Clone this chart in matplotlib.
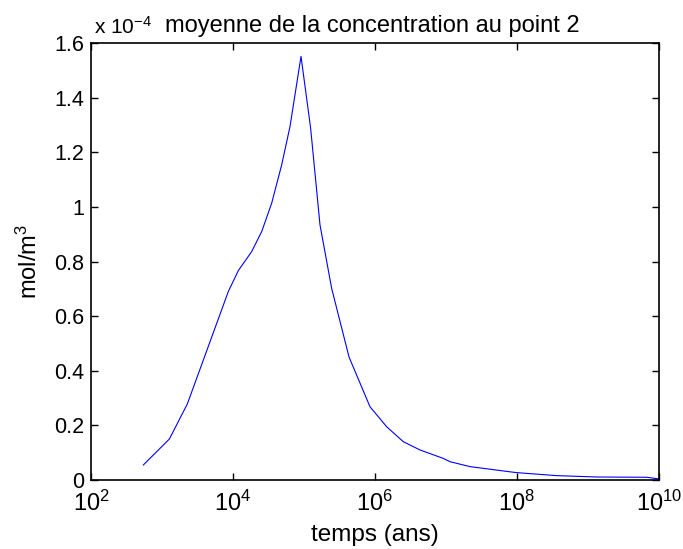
import math
import matplotlib
matplotlib.use("Agg")
import matplotlib.pyplot as plt
from matplotlib.ticker import FixedLocator, FuncFormatter, NullLocator

# ── Data ──────────────────────────────────────────────────────────────────────
temps = [5.46e2, 1.27e3, 2.27e3, 8.59e3, 1.19e4, 1.83e4, 2.54e4, 3.51e4,
         4.85e4, 6.35e4, 9.08e4, 1.24e5, 1.68e5, 2.45e5, 4.31e5, 8.51e5,
         1.46e6, 2.51e6, 4.31e6, 9.16e6, 1.14e7, 2.18e7, 7.96e7, 9.90e7,
         3.62e8, 1.33e9, 6.71e9, 1.0e10]
conc_e4 = [0.055, 0.150, 0.278, 0.690, 0.767, 0.836, 0.910, 1.014,
           1.154, 1.294, 1.551, 1.288, 0.934, 0.702, 0.450, 0.268,
           0.195, 0.140, 0.110, 0.079, 0.067, 0.049, 0.030, 0.027,
           0.016, 0.011, 0.010, 0.004]   # x 1e-4 mol/m3
xticks = [1e2, 1e4, 1e6, 1e8, 1e10]
yticks = [0, 0.2, 0.4, 0.6, 0.8, 1.0, 1.2, 1.4, 1.6]

plt.rcParams["font.family"] = ["Liberation Sans", "DejaVu Sans"]
plt.rcParams["mathtext.fontset"] = "custom"
plt.rcParams["mathtext.rm"] = "Liberation Sans"
plt.rcParams["mathtext.it"] = "Liberation Sans:italic"
plt.rcParams["mathtext.bf"] = "Liberation Sans:bold"

fig = plt.figure(figsize=(6.83, 5.49), dpi=100)
ax = fig.add_axes([91 / 683, 69 / 549, 568 / 683, 437 / 549])

ax.semilogx(temps, conc_e4, color=(0, 0, 1), lw=0.8)
ax.set_xlim(1e2, 1e10)
ax.set_ylim(0, 1.6)

ax.xaxis.set_major_locator(FixedLocator(xticks))
ax.xaxis.set_minor_locator(NullLocator())
ax.xaxis.set_major_formatter(FuncFormatter(lambda v, p: r"$10^{%d}$" % round(math.log10(v))))
ax.yaxis.set_major_locator(FixedLocator(yticks))
ax.yaxis.set_major_formatter(FuncFormatter(lambda v, p: "%g" % round(v, 1)))

ax.tick_params(direction="in", length=5, width=1, top=True, right=True,
               pad=5, colors="black")
ax.tick_params(axis="x", labelsize=17, pad=8)
ax.tick_params(axis="y", labelsize=15.5)
for s in ax.spines.values():
    s.set_linewidth(1.2)

ax.set_xlabel("temps (ans)", fontsize=17.5, va="center")
ax.xaxis.set_label_coords(0.5, -0.125)
ax.set_ylabel("mol/m$^3$", fontsize=17, va="center")
ax.yaxis.set_label_coords(-0.108, 0.5)
ax.set_title("moyenne de la concentration au point 2", fontsize=17, pad=8, x=0.495)
ax.text(0.006, 1.012, r"x 10$^{\mathregular{-4}}$", transform=ax.transAxes,
        ha="left", va="bottom", fontsize=15)

fig.savefig("out.png", dpi=100)
